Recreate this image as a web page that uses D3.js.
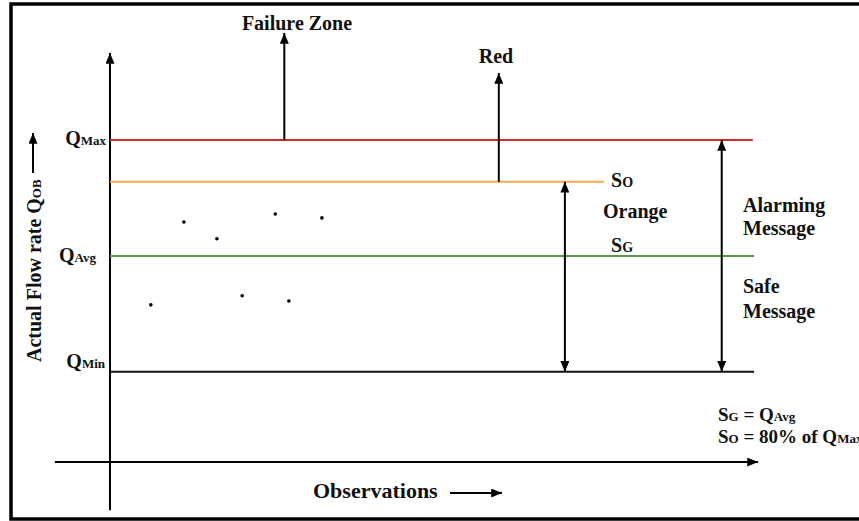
<!DOCTYPE html>
<html><head><meta charset="utf-8">
<script src="https://cdn.jsdelivr.net/npm/d3@7"></script>
<style>
html,body{margin:0;padding:0;background:#fff;}
svg{display:block;font-family:"Liberation Serif","Times New Roman",serif;font-weight:bold;}
</style></head>
<body><div id="chart"></div>
<script>
// ---- data (arbitrary units) ----
const levelNames  = ["QMax", "SO", "QAvg", "QMin"];
const levelValues = [100, 87, 64, 28];
const levelEnds   = [99.2, 76.2, 99.4, 99.4];
const levelColors = ["#d42a2f", "#f2ac4c", "#5b9448", "#111111"];
const obsX = [6.3, 11.4, 16.5, 20.4, 25.5, 27.6, 32.7];
const obsY = [48.8, 74.5, 69.3, 51.6, 77.0, 50.0, 75.8];

const W = 859, H = 521;
const svg = d3.select("#chart").append("svg").attr("width", W).attr("height", H);

const x = d3.scaleLinear().domain([0, 100]).range([110, 758]);
const y = d3.scaleLinear().domain([0, 127]).range([462, 53]);

const defs = svg.append("defs");
defs.append("marker").attr("id", "ah").attr("viewBox", "0 0 12 10")
  .attr("refX", 12).attr("refY", 5).attr("markerWidth", 12).attr("markerHeight", 9)
  .attr("markerUnits", "userSpaceOnUse").attr("orient", "auto-start-reverse")
  .append("path").attr("d", "M0,0 L12,5 L0,10 Z").attr("fill", "#000");

// frame
svg.append("rect").attr("x", 11).attr("y", 4).attr("width", 900).attr("height", 515)
  .attr("fill", "none").attr("stroke", "#000").attr("stroke-width", 3.5);

function arrow(x1, y1, x2, y2, both) {
  const l = svg.append("line").attr("x1", x1).attr("y1", y1).attr("x2", x2).attr("y2", y2)
    .attr("stroke", "#000").attr("stroke-width", 2).attr("marker-end", "url(#ah)");
  if (both) l.attr("marker-start", "url(#ah)");
  return l;
}

// axes
arrow(x(0), y(-15), x(0), y(127));
arrow(x(-8.5), y(0), x(100), y(0));

// level lines
levelValues.forEach((v, i) => {
  svg.append("line").attr("x1", x(0)).attr("x2", x(levelEnds[i]))
    .attr("y1", y(v)).attr("y2", y(v))
    .attr("stroke", levelColors[i]).attr("stroke-width", 2);
});

// annotation arrows
arrow(x(26.9), y(levelValues[0]), x(26.9), 33);
arrow(x(60), y(levelValues[1]), x(60), 73);
arrow(x(70.2), y(levelValues[1]), x(70.2), y(levelValues[3]), true);
arrow(x(94.4), y(levelValues[0]), x(94.4), y(levelValues[3]), true);

// observations
svg.selectAll("circle.obs").data(obsX).enter().append("circle").attr("class", "obs")
  .attr("cx", (d, i) => x(d)).attr("cy", (d, i) => y(obsY[i])).attr("r", 1.8).attr("fill", "#000");

// text helpers
function label(xp, yp, parts, anchor) {
  const t = svg.append("text").attr("x", xp).attr("y", yp).attr("text-anchor", anchor || "start")
    .attr("fill", "#111");
  parts.forEach(p => t.append("tspan").attr("font-size", p[1]).text(p[0]));
  return t;
}
label(297, 30, [["Failure Zone", 20]], "middle");
label(496, 63, [["Red", 20]], "middle");
label(106, y(levelValues[0]) + 5, [["Q", 20], ["Max", 13]], "end");
label(96, y(levelValues[2]) + 6, [["Q", 20], ["Avg", 13]], "end");
label(105, y(levelValues[3]) - 4, [["Q", 20], ["Min", 13]], "end");
label(611, 187, [["S", 20], ["O", 14]]);
label(603, 218, [["Orange", 20]]);
label(611, 252, [["S", 20], ["G", 14]]);
label(743, 212, [["Alarming", 20]]);
label(743, 235, [["Message", 20]]);
label(743, 293, [["Safe", 20]]);
label(743, 318, [["Message", 20]]);
label(718, 421, [["S", 19], ["G", 13], [" = Q", 19], ["Avg", 13]]);
label(718, 443, [["S", 19], ["O", 13], [" = 80% of Q", 19], ["Max", 13]]);
label(313, 498, [["Observations", 22]]);
arrow(450, 493, 502, 493);

// y title
const yt = svg.append("text").attr("transform", "translate(41,362) rotate(-90)").attr("fill", "#111");
yt.append("tspan").attr("font-size", 20).text("Actual Flow rate Q");
yt.append("tspan").attr("font-size", 13).text("OB");
arrow(33, 173, 33, 133);
</script></body></html>
